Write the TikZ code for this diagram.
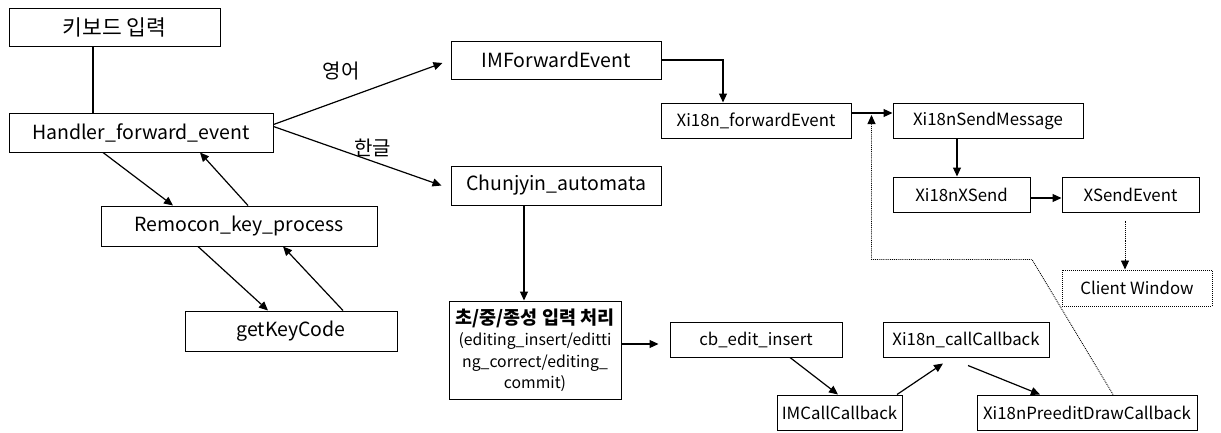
\documentclass[tikz,border=0pt]{standalone}
\usepackage{fontspec}
\setmainfont{Noto Sans CJK KR}
\usetikzlibrary{arrows.meta}
\begin{document}
\begin{tikzpicture}[x=1pt, y=-1pt, line width=1.2pt, arrows={-Triangle[length=9pt,width=8pt]},
	font=\fontsize{20}{24}\selectfont,
	box/.style={draw, line width=1pt, minimum height=35pt, inner sep=2pt, font=\fontsize{16.8}{20}\selectfont},
	big/.style={font=\fontsize{19.5}{23}\selectfont}]
	\useasboundingbox (0,0) rectangle (1221,432);

	\node[box, font=\fontsize{21.5}{25}\selectfont, minimum width=211pt, minimum height=38pt] (Key) at (114.5,27) {키보드 입력};
	\node[box, big, minimum width=264pt, minimum height=39pt] (Handler) at (141,132.5) {Handler\_forward\_event};
	\node[box, big, minimum width=276pt, minimum height=40pt] (Remocon) at (239,226) {Remocon\_key\_process};
	\node[box, big, minimum width=212pt, minimum height=40pt] (GetKey) at (291,331) {getKeyCode};
	\node[box, big, minimum width=210pt, minimum height=38pt] (IMFwd) at (556,60) {IMForwardEvent};
	\node[box, big, minimum width=210pt, minimum height=39pt] (Automata) at (556,185.5) {Chunjyin\_automata};
	\node[box, minimum width=172pt, minimum height=98pt, align=center, font=\fontsize{15.8}{21.5}\selectfont] (Proc) at (535,350)
		{{\fontsize{18.5}{21.5}\selectfont\bfseries 초/중/종성 입력 처리}\\(editing\_insert/editti\\ng\_correct/editing\_\\commit)};

	\node[box, minimum width=190pt] (XFwd) at (756,120.5) {Xi18n\_forwardEvent};
	\node[box, minimum width=190pt] (SendMsg) at (988,120.5) {Xi18nSendMessage};
	\node[box, minimum width=137pt] (XSend) at (961.5,194.5) {Xi18nXSend};
	\node[box, minimum width=137pt] (XSendEv) at (1130.5,194.5) {XSendEvent};
	\node[box, densely dotted, minimum width=150pt, minimum height=36pt] (Client) at (1137,288) {Client Window};

	\node[box, minimum width=172pt] (CbEdit) at (756,339.5) {cb\_edit\_insert};
	\node[box, minimum width=125pt] (IMCall) at (839.5,412.5) {IMCallCallback};
	\node[box, minimum width=166pt] (XCall) at (966,339.5) {Xi18n\_callCallback};
	\node[box, minimum width=220pt] (Preedit) at (1087,412.5) {Xi18nPreeditDrawCallback};

	\draw[-] ([xshift=-21.5pt]Key.south) -- ([xshift=-48pt]Handler.north);
	\draw ([xshift=-38pt]Handler.south) -- ([xshift=-66pt]Remocon.north);
	\draw ([xshift=9pt]Remocon.north) -- ([xshift=59pt]Handler.south);
	\draw ([xshift=-41pt]Remocon.south) -- ([xshift=-23pt]GetKey.north);
	\draw ([xshift=52pt]GetKey.north) -- ([xshift=44pt]Remocon.south);

	\draw ([yshift=8pt]Handler.east) to node[pos=.4, above=16pt] {영어} ([xshift=-8pt,yshift=-3pt]IMFwd.west);
	\draw ([yshift=6pt]Handler.east) to node[pos=.59, above=1pt] {한글} ([xshift=-9pt]Automata.west);

	\draw (IMFwd.east) -| ([xshift=-33pt]XFwd.north);
	\draw ([xshift=-32pt]Automata.south) -- ([xshift=-11pt]Proc.north);
	\draw ([yshift=6pt]Proc.east) -- ([xshift=-11pt,yshift=-4.5pt]CbEdit.west);
	\draw ([xshift=34pt]CbEdit.south) -- ([xshift=-1.5pt]IMCall.north);
	\draw ([xshift=57.5pt]IMCall.north) -- ([xshift=-23pt,yshift=-6pt]XCall.south);
	\draw ([xshift=2pt,yshift=-8pt]XCall.south) -- ([xshift=-47pt]Preedit.north);

	\draw ([yshift=7.5pt]XFwd.east) -- ([yshift=7.5pt]SendMsg.west);
	\draw ([xshift=-31pt]SendMsg.south) -- ([xshift=-4.5pt]XSend.north);
	\draw ([yshift=-3.5pt]XSend.east) -- ([yshift=-3.5pt]XSendEv.west);
	\draw[densely dotted, line width=.9pt] ([xshift=-5.5pt,yshift=-8pt]XSendEv.south) -- ([xshift=-12pt]Client.north);
	\draw[densely dotted, line width=.9pt] ([xshift=26pt]Preedit.north) -- ++(-81,-135) -| ([xshift=20pt,yshift=5.5pt]XFwd.east);
\end{tikzpicture}
\end{document}
